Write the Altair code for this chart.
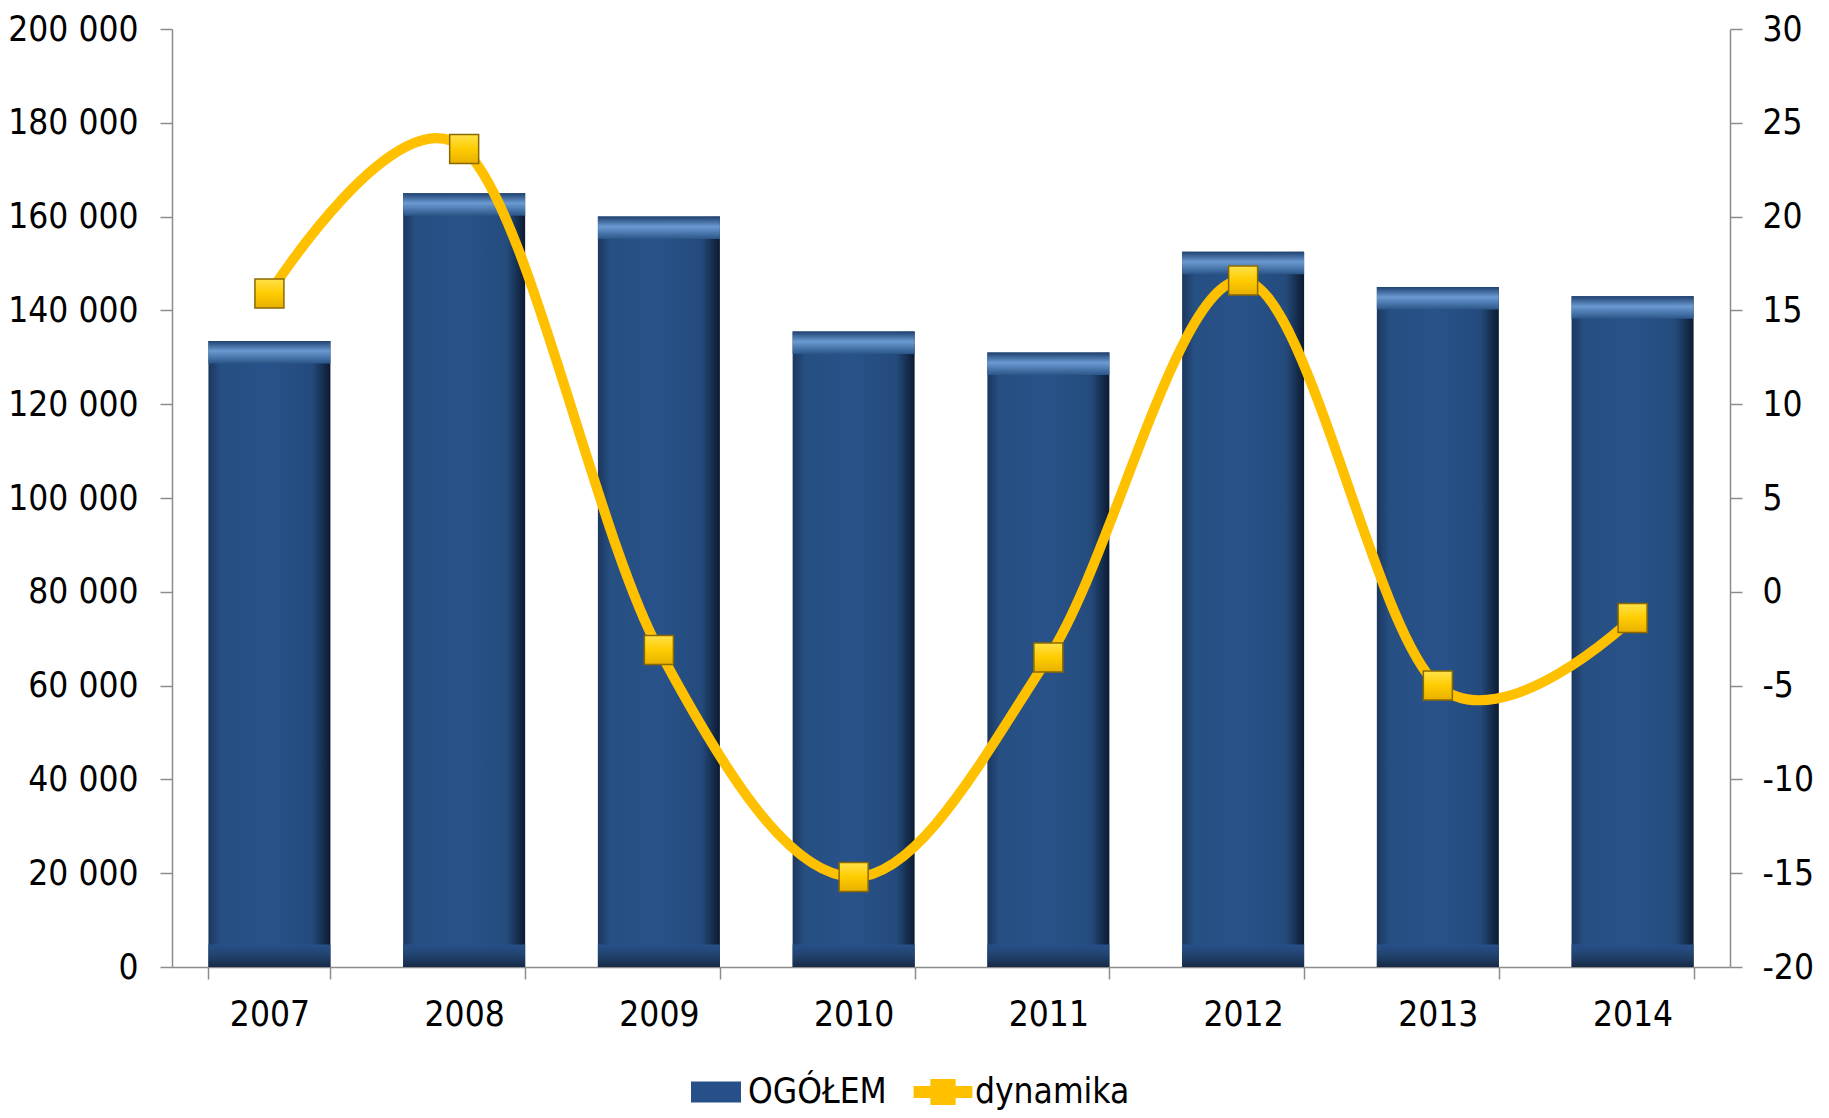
import altair as alt
import pandas as pd

years = ["2007", "2008", "2009", "2010", "2011", "2012", "2013", "2014"]
ogolem = [133500, 165000, 160000, 135500, 131000, 152500, 145000, 143000]
dynamika = [15.9, 23.6, -3.1, -15.2, -3.5, 16.6, -5.0, -1.4]
series_names = ["OGÓŁEM", "dynamika"]
left_ticks = [0, 20000, 40000, 60000, 80000, 100000, 120000, 140000, 160000, 180000, 200000]
right_ticks = [-20, -15, -10, -5, 0, 5, 10, 15, 20, 25, 30]

df = pd.DataFrame({"year": years, "v": ogolem, "d": dynamika})
leg_df = pd.DataFrame({"series": series_names})

FONT = "DejaVu Sans Condensed"
AX = "#8c8c8c"
FS = 35

xenc = alt.X(
    "year:N",
    sort=years,
    scale=alt.Scale(paddingInner=0.3735, paddingOuter=0.187),
    axis=alt.Axis(
        title=None, labelAngle=0, tickBand="extent", tickSize=12,
        labelPadding=18, labelFontSize=FS, labelFont=FONT, labelColor="#000",
        domainColor=AX, tickColor=AX, domainWidth=1.5, tickWidth=1.5,
    ),
)

yleft_scale = alt.Scale(domain=[0, 200000], nice=False, zero=True)
yleft_axis = alt.Axis(
    title=None, values=left_ticks, tickSize=12, labelPadding=22,
    labelFontSize=FS, labelFont=FONT, labelColor="#000",
    domainColor=AX, tickColor=AX, domainWidth=1.5, tickWidth=1.5,
    labelExpr="replace(format(datum.value, ','), ',', ' ')",
)

side_grad = alt.Gradient(
    gradient="linear", x1=0, x2=1, y1=0, y2=0,
    stops=[
        alt.GradientStop(offset=0, color="#1b375e"),
        alt.GradientStop(offset=0.1, color="#264f82"),
        alt.GradientStop(offset=0.5, color="#28528a"),
        alt.GradientStop(offset=0.85, color="#244b7c"),
        alt.GradientStop(offset=1, color="#0c1a30"),
    ],
)
top_grad = alt.Gradient(
    gradient="linear", x1=0, x2=0, y1=0, y2=1,
    stops=[
        alt.GradientStop(offset=0, color="#1f4170"),
        alt.GradientStop(offset=0.45, color="#6a9ad2"),
        alt.GradientStop(offset=1, color="#2a5588"),
    ],
)
bot_grad = alt.Gradient(
    gradient="linear", x1=0, x2=0, y1=0, y2=1,
    stops=[
        alt.GradientStop(offset=0, color="#27508a"),
        alt.GradientStop(offset=0.5, color="#21426c"),
        alt.GradientStop(offset=1, color="#162a46"),
    ],
)

bars = alt.Chart(df).mark_bar(fill=side_grad).encode(
    x=xenc,
    y=alt.Y("v:Q", scale=yleft_scale, axis=yleft_axis),
)
top_bev = alt.Chart(df).transform_calculate(t="datum.v - 4800").mark_bar(fill=top_grad).encode(
    x=xenc, y=alt.Y("v:Q", scale=yleft_scale, axis=yleft_axis), y2="t:Q"
)
bot_bev = alt.Chart(df).transform_calculate(b0="0", b1="4800").mark_bar(fill=bot_grad).encode(
    x=xenc, y=alt.Y("b1:Q", scale=yleft_scale, axis=yleft_axis), y2="b0:Q"
)
left = alt.layer(bars, top_bev, bot_bev)

yright_scale = alt.Scale(domain=[-20, 30], nice=False, zero=False)
yright_axis = alt.Axis(
    title=None, orient="right", values=right_ticks, tickSize=12, labelPadding=20,
    labelFontSize=FS, labelFont=FONT, labelColor="#000",
    domainColor=AX, tickColor=AX, domainWidth=1.5, tickWidth=1.5,
    labelExpr="toString(datum.value)",
)

line = alt.Chart(df).mark_line(
    interpolate="cardinal", tension=0, color="#FFC000", strokeWidth=10, strokeCap="round"
).encode(x=xenc, y=alt.Y("d:Q", scale=yright_scale, axis=yright_axis))

marker_grad = alt.Gradient(
    gradient="linear", x1=0, x2=0, y1=0, y2=1,
    stops=[
        alt.GradientStop(offset=0, color="#FFE14a"),
        alt.GradientStop(offset=0.5, color="#FFCC00"),
        alt.GradientStop(offset=1, color="#E8B000"),
    ],
)
markers = alt.Chart(df).mark_point(
    shape="square", filled=True, size=840, fill=marker_grad, stroke="#8a6a00",
    strokeWidth=1.5, opacity=1,
).encode(x=xenc, y=alt.Y("d:Q", scale=yright_scale, axis=yright_axis))
right = alt.layer(line, markers)

legend = alt.Legend(
    title=None, orient="none", legendX=514, legendY=1033, direction="horizontal",
    symbolSize=3600, labelFontSize=FS, labelFont=FONT, labelColor="#000",
    symbolStrokeWidth=0, columnPadding=26, labelOffset=2,
)
legend_layer = alt.Chart(leg_df).transform_filter("false").mark_point(filled=True, opacity=1).encode(
    color=alt.Color("series:N", sort=series_names,
                    scale=alt.Scale(domain=series_names, range=["#27508a", "#FFC000"]),
                    legend=legend),
    shape=alt.Shape("series:N", sort=series_names,
                    scale=alt.Scale(domain=series_names, range=[
                        "M-0.833,-0.35H0.833V0.35H-0.833Z",
                        "M-0.98,-0.2H0.98V0.2H-0.98Z M-0.42,-0.43H0.42V0.43H-0.42Z",
                    ]),
                    legend=legend),
)

chart = alt.layer(left, right, legend_layer).resolve_scale(y="independent").properties(
    width=1558, height=938,
    autosize=alt.AutoSizeParams(type="none"),
    padding={"left": 164, "top": 21, "right": 91, "bottom": 143},
).configure_axis(grid=False).configure_view(stroke=None)

chart.save("out.html", embed_options={"renderer": "svg", "actions": False})
